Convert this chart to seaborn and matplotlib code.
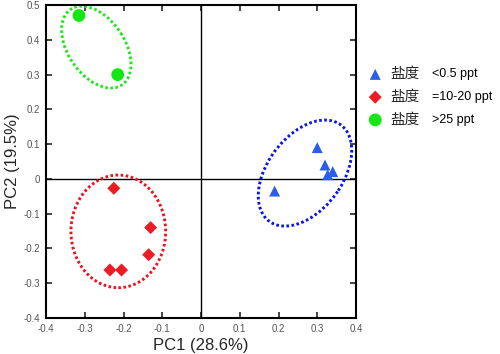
import pandas as pd
import matplotlib
matplotlib.use("Agg")
import matplotlib.pyplot as plt
import seaborn as sns
from matplotlib.patches import Ellipse
from matplotlib.ticker import MultipleLocator, FuncFormatter

# Dados PCA
grupos = ["<0.5 ppt", "=10-20 ppt", ">25 ppt"]
pc1_baixa = [0.19, 0.30, 0.32, 0.34, 0.327]
pc2_baixa = [-0.035, 0.09, 0.04, 0.021, 0.012]
pc1_media = [-0.225, -0.13, -0.135, -0.235, -0.205]
pc2_media = [-0.027, -0.14, -0.218, -0.262, -0.262]
pc1_alta = [-0.315, -0.215]
pc2_alta = [0.47, 0.30]

cores_pontos = ["#2a5de8", "#ec1c24", "#14e614"]
cores_elipse = ["#0a14e6", "#e8141e", "#22e622"]
marcadores = ["^", "D", "o"]
tamanhos = [62, 44, 85]

# elipses: centro x, centro y, largura, altura, ângulo
elipses = [
    (0.2684, 0.0168, 0.334, 0.199, 59.5),
    (-0.2134, -0.1509, 0.2444, 0.324, 0),
    (-0.2702, 0.379, 0.255, 0.150, 118.3),
]

df = pd.DataFrame({
    "PC1": pc1_baixa + pc1_media + pc1_alta,
    "PC2": pc2_baixa + pc2_media + pc2_alta,
    "grupo": [grupos[0]] * len(pc1_baixa) + [grupos[1]] * len(pc1_media) + [grupos[2]] * len(pc1_alta),
})

sns.set_style("white")
plt.rcParams["font.family"] = ["Liberation Sans", "Noto Sans CJK SC"]

fig = plt.figure(figsize=(5, 3.54), dpi=100)
ax = fig.add_axes([0.092, 0.1017, 0.62, 0.884])

ax.axhline(0, color="black", lw=1, zorder=1)
ax.axvline(0, color="black", lw=1, zorder=1)

for (cx, cy, w, h, ang), cor in zip(elipses, cores_elipse):
    ax.add_patch(Ellipse((cx, cy), w, h, angle=ang, fill=False, edgecolor=cor,
                         lw=2.1, linestyle=(0, (0.9, 0.85)), zorder=2))

for g, cor, m, s in zip(grupos, cores_pontos, marcadores, tamanhos):
    sub = df[df["grupo"] == g]
    sns.scatterplot(data=sub, x="PC1", y="PC2", color=cor, marker=m, s=s,
                    edgecolor="none", ax=ax, zorder=3, label="盐度")

ax.set_xlim(-0.4, 0.4)
ax.set_ylim(-0.4, 0.5)
ax.xaxis.set_major_locator(MultipleLocator(0.1))
ax.yaxis.set_major_locator(MultipleLocator(0.1))
fmt = FuncFormatter(lambda v, p: "0" if abs(v) < 1e-9 else f"{v:.1f}")
ax.xaxis.set_major_formatter(fmt)
ax.yaxis.set_major_formatter(fmt)
ax.tick_params(direction="in", length=4, width=1.2, labelsize=7,
               labelcolor="#555555", top=True, right=True, bottom=True, left=True,
               pad=4)
for sp in ax.spines.values():
    sp.set_color("black")
    sp.set_linewidth(1.5)

ax.set_xlabel("PC1 (28.6%)", fontsize=12, labelpad=3)
ax.set_ylabel("PC2 (19.5%)", fontsize=12, labelpad=3)

leg = ax.legend(loc="upper left", bbox_to_anchor=(1.015, 0.82), frameon=False,
                fontsize=10.5, handletextpad=0.45, labelspacing=0.6,
                handlelength=1.2, borderaxespad=0)

# textos dos níveis de salinidade, alinhados com as linhas da legenda
fig.canvas.draw()
inv = fig.transFigure.inverted()
for t, g in zip(leg.get_texts(), grupos):
    bb = t.get_window_extent()
    x0, y0 = inv.transform((bb.x1 + 12, (bb.y0 + bb.y1) / 2))
    fig.text(x0, y0, g, fontsize=9, va="center", ha="left", color="black")

fig.savefig("out.png", dpi=100)
plt.close(fig)
